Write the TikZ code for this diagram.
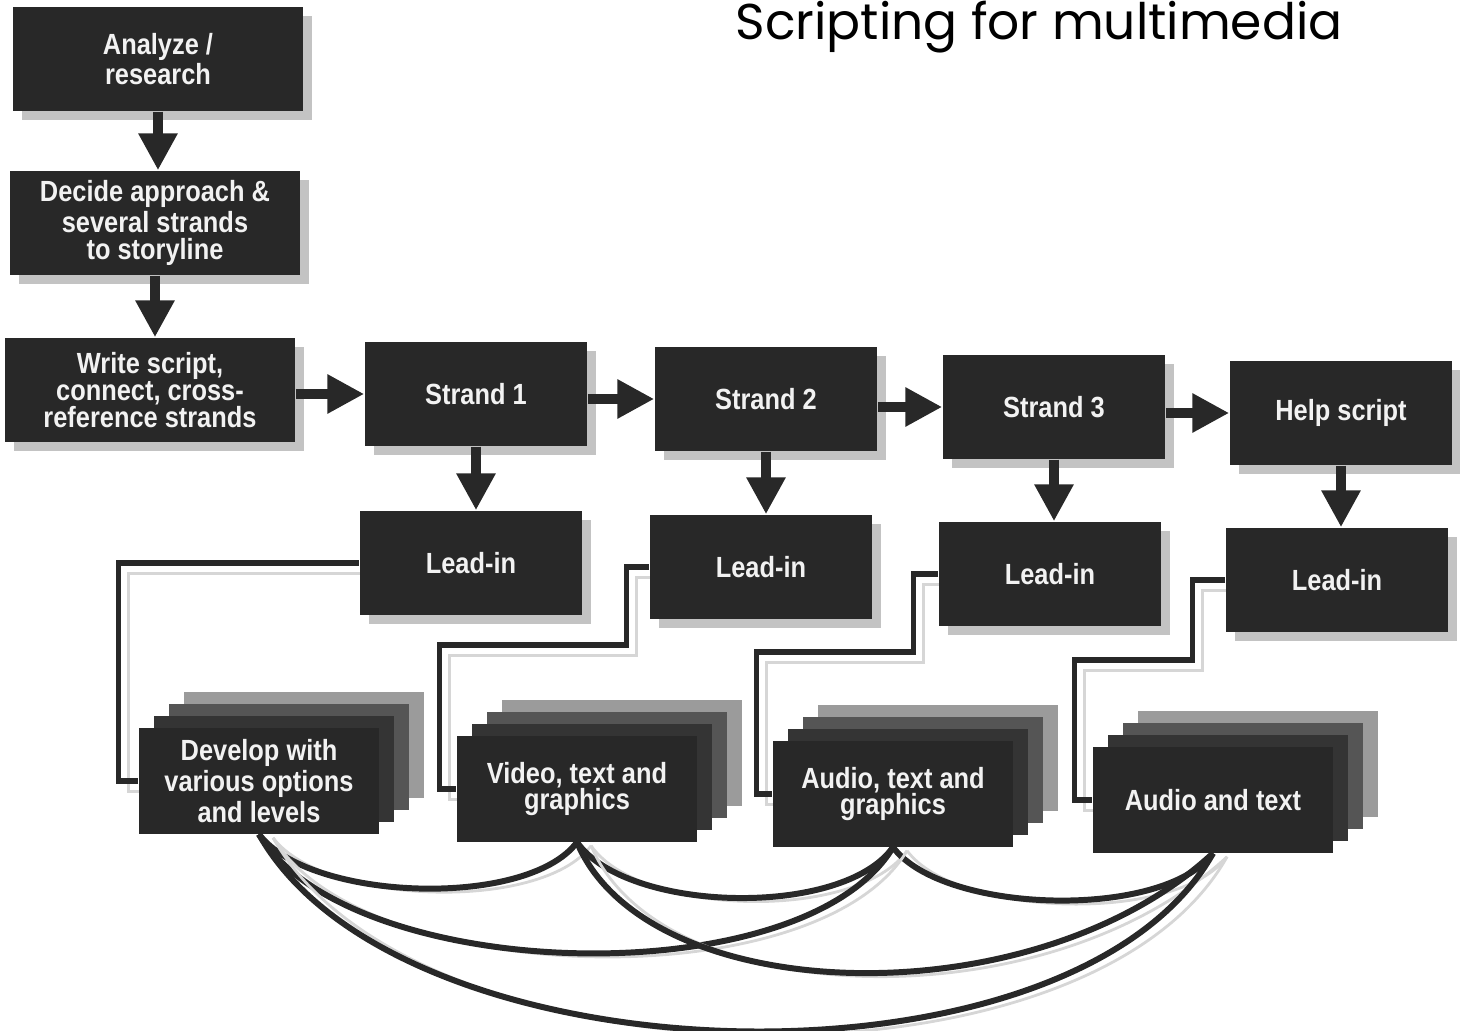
\documentclass[tikz,border=0pt]{standalone}
\usepackage{fontspec}
\setmainfont{Liberation Sans}
\newfontfamily\boxfont[FakeStretch=0.87]{Liberation Sans}
\newfontfamily\titlefont{Poppins}
\usetikzlibrary{arrows.meta,shadows,backgrounds}

\definecolor{boxfill}{RGB}{40,40,40}
\definecolor{boxtext}{RGB}{242,242,242}
\definecolor{shadowgrey}{RGB}{195,195,195}
\definecolor{lineshadow}{RGB}{214,214,214}
\definecolor{cardA}{RGB}{52,52,52}
\definecolor{cardB}{RGB}{85,85,85}
\definecolor{cardC}{RGB}{155,155,155}

\tikzset{ % boxes, cards and lines
  box/.style={rectangle, fill=boxfill, text=boxtext, align=center, inner sep=0pt,
    font=\boxfont\bfseries\fontsize{8.3}{7.6}\selectfont,
    minimum width=2.22cm, minimum height=1.04cm,
    general shadow={fill=shadowgrey, shadow xshift=2.5pt, shadow yshift=-2.5pt}},
  widebox/.style={box, minimum width=2.9cm},
  card/.style={rectangle, fill=boxfill, text=boxtext, align=center, inner sep=0pt,
    font=\boxfont\bfseries\fontsize{8.3}{7.6}\selectfont,
    minimum width=2.4cm, minimum height=1.05cm},
  flow/.style={draw=boxfill, line width=2.7pt, -{Triangle[length=10.5pt,width=10.5pt]}},
  link/.style={draw=boxfill, line width=1.5pt,
    preaction={draw=lineshadow, line width=0.8pt, transform canvas={xshift=3pt,yshift=-3pt}}},
  curl/.style={draw=boxfill, line width=1.7pt,
    preaction={draw=lineshadow, line width=0.8pt, transform canvas={xshift=4pt,yshift=-1pt}}}
}

% a front card with three cards stacked behind it
\newcommand{\cardstack}[4]{%
  \foreach \k/\c in {3/cardC,2/cardB,1/cardA}
    \node[card, fill=\c] at ({#2+15*\k},{#3-12*\k}) {};
  \node[card] (#1) at (#2,#3) {#4};
}

\begin{document}
\begin{tikzpicture}[x=0.01cm, y=-0.01cm]
\useasboundingbox (0,0) rectangle (1460,1031);

\node[anchor=base west, inner sep=0pt, font=\titlefont\fontsize{14.3}{17}\selectfont] (title) at (735,40) {Scripting for multimedia};

\node[widebox] (ana) at (158,59) {Analyze /\\research};
\node[widebox] (dec) at (155,223) {Decide approach \&\\several strands\\to storyline};
\node[widebox] (wri) at (150,390) {Write script,\\connect, cross-\\reference strands};

\node[box] (st1) at (476,394) {Strand 1};
\node[box] (st2) at (766,399) {Strand 2};
\node[box] (st3) at (1054,407) {Strand 3};
\node[box] (hlp) at (1341,413) {Help script};

\node[box] (li1) at (471,563) {Lead-in};
\node[box] (li2) at (761,567) {Lead-in};
\node[box] (li3) at (1050,574) {Lead-in};
\node[box] (li4) at (1337,580) {Lead-in};

\cardstack{dev}{259}{781}{Develop with\\various options\\and levels}
\cardstack{vid}{577}{789}{Video, text and\\graphics}
\cardstack{aud}{893}{794}{Audio, text and\\graphics}
\cardstack{txt}{1213}{800}{Audio and text}

\draw[flow] (ana.south) -- (ana.south |- dec.north);
\draw[flow] (dec.south) -- (dec.south |- wri.north);
\draw[flow] (wri.east |- st1.west) -- (st1.west);
\draw[flow] (st1.east |- st2.west) -- (st2.west);
\draw[flow] (st2.east |- st3.west) -- (st3.west);
\draw[flow] (st3.east |- hlp.west) -- (hlp.west);
\draw[flow] (st1.south) -- (st1.south |- li1.north);
\draw[flow] (st2.south) -- (st2.south |- li2.north);
\draw[flow] (st3.south) -- (st3.south |- li3.north);
\draw[flow] (hlp.south) -- (hlp.south |- li4.north);

\begin{scope}[on background layer]
\draw[link] (li1.west) -| ([xshift=-0.2cm]dev.west) -- (dev.west);
\draw[link] (li2.west) -- ++(-23,0) -- ++(0,78) -| ([xshift=-0.17cm]vid.west) -- (vid.west);
\draw[link] (li3.west) -- ++(-25,0) -- ++(0,78) -| ([xshift=-0.16cm]aud.west) -- (aud.west);
\draw[link] (li4.west) -- ++(-33,0) -- ++(0,80) -| ([xshift=-0.18cm]txt.west) -- (txt.west);

\draw[curl] (dev.south) .. controls +(50,67) and +(-50,67) .. (vid.south);
\draw[curl] (vid.south) .. controls +(50,71) and +(-50,71) .. (aud.south);
\draw[curl] (aud.south) .. controls +(50,67) and +(-50,67) .. (txt.south);
\draw[curl] (dev.south) .. controls +(90,150) and +(-90,150) .. (aud.south);
\draw[curl] (vid.south) .. controls +(70,167) and +(-180,167) .. (txt.south);
\draw[curl] (dev.south) .. controls +(140,250) and +(-140,250) .. (txt.south);
\end{scope}

\end{tikzpicture}
\end{document}
